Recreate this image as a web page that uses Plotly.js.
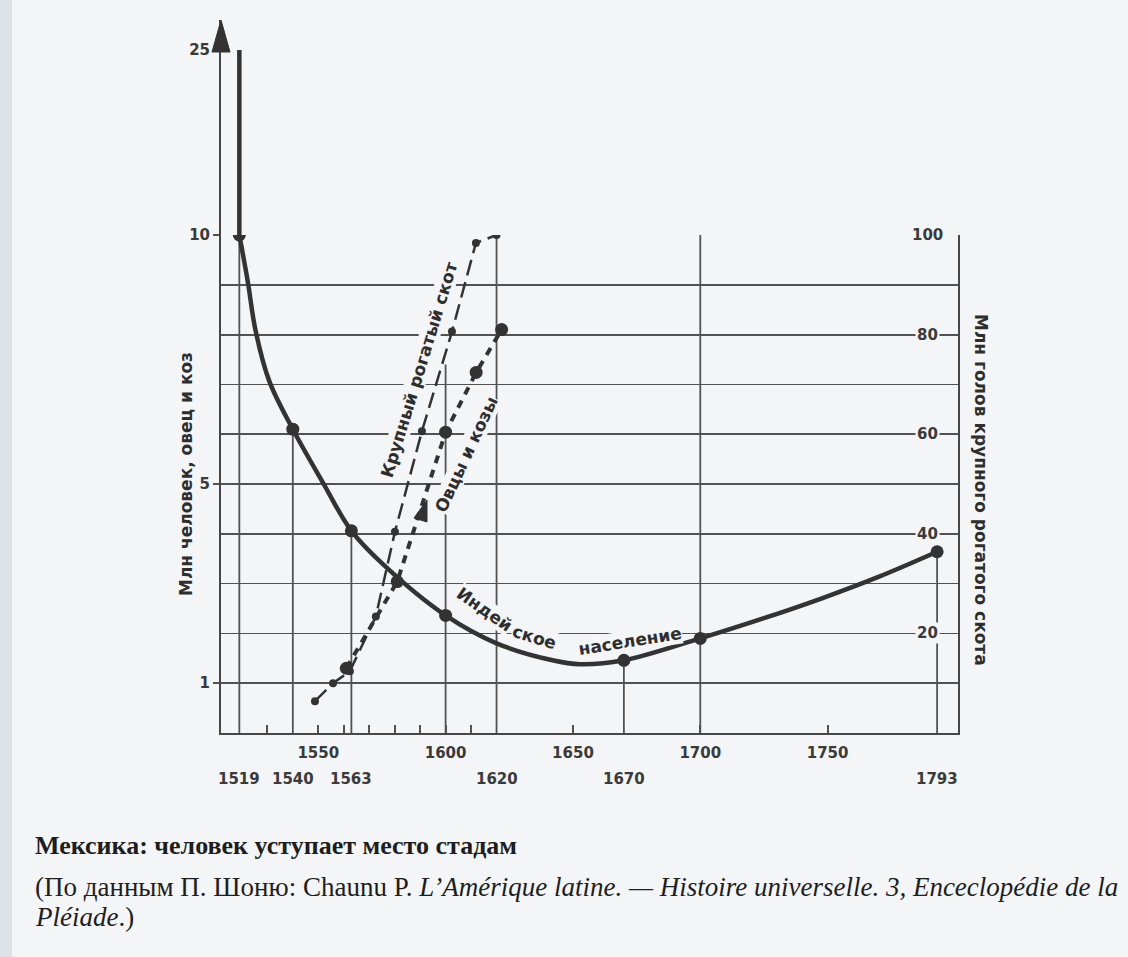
<!DOCTYPE html>
<html><head><meta charset="utf-8">
<script src="https://cdn.plot.ly/plotly-3.0.1.min.js"></script>
<style>html,body{margin:0;padding:0;background:#f3f5f7}#chart{width:1128px;height:957px}</style>
</head><body><div id="chart"></div>
<script>
// ---- data ----
const indianYears  = [1519, 1522.4, 1525.3, 1530.8, 1540, 1551.7, 1563, 1576, 1600, 1620, 1642, 1652.7, 1670, 1700, 1724.7, 1747.5, 1770.2, 1793];
const indianValues = [10, 9.04, 8.1, 7.06, 6.1, 5.04, 4.06, 3.36, 2.36, 1.8, 1.46, 1.38, 1.46, 1.9, 2.3, 2.7, 3.14, 3.64];
const indianMarkedYears = [1519, 1540, 1563, 1600, 1670, 1700, 1793];
const indianPeakYears  = [1519, 1519];
const indianPeakValues = [10, 25];
const cattleYears  = [1548.7, 1555.8, 1562.4, 1572.6, 1580.1, 1590.7, 1602.5, 1611.9, 1620];
const cattleValues = [6.4, 10, 12.4, 23.4, 40.4, 60.6, 80.6, 98.4, 100];
const sheepYears  = [1561, 1581, 1600, 1612, 1622];
const sheepValues = [1.3, 3.04, 6.04, 7.24, 8.1];
const dropYears = [1519, 1540, 1563, 1600, 1620, 1670, 1700, 1793];
const dropTops  = [10, 6.1, 4.06, 7.4, 10, 1.46, 10, 3.64];
const leftTicks  = [1, 5, 10];
const upperTicks = [25];
const rightTicks = [20, 40, 60, 80, 100];
const xTopRow    = [1550, 1600, 1650, 1700, 1750];
const xBottomRow = [1519, 1540, 1563, 1620, 1670, 1793];
const xMinorTicks = [1530, 1560, 1570, 1580, 1590, 1610];

// ---- layout geometry ----
const L = 221, R = 958, T = 20, B = 733;
const W = R - L, H = B - T;
const px = x => (x - L) / W;
const py = y => (B - y) / H;
const mainTop = py(235);
const BG = '#f3f5f7';
const INK = '#333333';
const GRID = '#525252';
const FONT = 'DejaVu Sans';

const markedValues = indianMarkedYears.map(y => indianValues[indianYears.indexOf(y)]);
const dropX = [], dropY = [];
dropYears.forEach((yr, i) => { dropX.push(yr, yr, null); dropY.push(0, dropTops[i], null); });

const traces = [
  {x: dropX, y: dropY, mode: 'lines', line: {color: GRID, width: 1.8}, hoverinfo: 'skip', showlegend: false},
  {x: indianYears, y: indianValues, mode: 'lines', line: {color: INK, width: 4.5, shape: 'spline', smoothing: 1}, showlegend: false},
  {x: indianPeakYears, y: indianPeakValues, yaxis: 'y3', mode: 'lines', line: {color: INK, width: 4.5}, showlegend: false},
  {x: indianMarkedYears, y: markedValues, mode: 'markers', marker: {color: INK, size: 13}, showlegend: false},
  {x: cattleYears, y: cattleValues, yaxis: 'y2', mode: 'lines+markers', line: {color: INK, width: 2.5, dash: '16px,7px'}, marker: {color: INK, size: 8}, showlegend: false},
  {x: sheepYears, y: sheepValues, mode: 'lines+markers', line: {color: INK, width: 4, dash: '8px,7px'}, marker: {color: INK, size: 13}, showlegend: false}
];

const tickFont = {family: FONT, size: 15, color: '#3a3a3a', weight: 'bold'};
const labelFont = {family: FONT, size: 17, color: '#2e2e2e', weight: 'bold'};
const capFont = {family: 'Liberation Serif', size: 27, color: '#1e1e1e'};

const ann = (x, y, text, extra) => Object.assign({xref: 'paper', yref: 'paper', x: px(x), y: py(y), text: text,
  showarrow: false, xanchor: 'center', yanchor: 'middle'}, extra);

const annotations = [];
rightTicks.forEach(v => annotations.push({xref: 'paper', yref: 'y2', x: px(927), y: v, text: String(v), showarrow: false,
  xanchor: 'center', yanchor: 'middle', bgcolor: BG, borderpad: 1, font: tickFont}));
xBottomRow.forEach(v => annotations.push({xref: 'x', yref: 'paper', x: v, y: py(779), text: String(v), showarrow: false,
  xanchor: 'center', yanchor: 'middle', font: tickFont}));
annotations.push(
  ann(186, 474, 'Млн человек, овец и коз', {textangle: -90, font: labelFont}),
  ann(981, 490, 'Млн голов крупного рогатого скота', {textangle: 90, font: labelFont}),
  ann(419, 370, 'Крупный рогатый скот', {textangle: -73, bgcolor: BG, borderpad: 0, font: labelFont}),
  ann(466, 455, 'Овцы и козы', {textangle: -65, bgcolor: BG, borderpad: 0, font: labelFont}),
  ann(484, 609, 'Индей', {textangle: 35, bgcolor: BG, borderpad: 0, font: labelFont}),
  ann(534, 637, 'ское', {textangle: 17, bgcolor: BG, borderpad: 0, font: labelFont}),
  ann(630, 641, 'население', {textangle: -9, bgcolor: BG, borderpad: 0, font: labelFont}),
  ann(33, 845, '<b>Мексика: человек уступает место стадам</b>', {xanchor: 'left', font: Object.assign({}, capFont, {size: 26})}),
  ann(33, 887, '(По данным П. Шоню: Chaunu P. <i>L’Amérique latine. — Histoire universelle. 3, Enceclopédie de la</i>', {xanchor: 'left', font: capFont}),
  ann(33, 917, '<i>Pléiade</i>.)', {xanchor: 'left', font: capFont})
);

// arrow heads (decoration)
const tri = (tx, ty, bx1, by1, bx2, by2) => `M${px(tx)},${py(ty)} L${px(bx1)},${py(by1)} L${px(bx2)},${py(by2)} Z`;
const shapes = [
  {type: 'rect', xref: 'paper', yref: 'paper', x0: px(0), x1: px(12), y0: py(957), y1: py(0), fillcolor: '#dde2e7', line: {width: 0}, layer: 'below'},
  {type: 'path', xref: 'paper', yref: 'paper', path: tri(221, 20, 212, 52, 230, 52), fillcolor: INK, line: {color: INK, width: 1}},
  {type: 'path', xref: 'paper', yref: 'paper', path: tri(427, 500, 414, 518, 427, 522), fillcolor: INK, line: {color: INK, width: 1}}
];

const layout = {
  width: 1128, height: 957,
  margin: {l: L, r: 1128 - R, t: T, b: 957 - B, pad: 0},
  paper_bgcolor: BG, plot_bgcolor: BG,
  showlegend: false,
  xaxis: {range: [1511.8, 1801.2], tickvals: xTopRow, ticks: 'inside', ticklen: 8, tickwidth: 2, tickcolor: GRID,
          showline: true, linewidth: 2, linecolor: '#474747', showgrid: false, zeroline: false, anchor: 'y',
          tickfont: tickFont, ticklabelstandoff: 5,
          minor: {tickvals: xMinorTicks, ticks: 'inside', ticklen: 8, tickwidth: 2, tickcolor: GRID, showgrid: false}},
  yaxis: {domain: [0, mainTop], range: [0, 10], tickvals: leftTicks, ticks: 'outside', ticklen: 6, tickwidth: 2, tickcolor: GRID,
          showgrid: true, gridcolor: GRID, gridwidth: 1.8, zeroline: false, showline: true, linewidth: 2, linecolor: '#474747',
          tickfont: tickFont, anchor: 'x',
          minor: {dtick: 1, tick0: 0, showgrid: true, gridcolor: GRID, gridwidth: 1.8, ticks: ''}},
  yaxis2: {overlaying: 'y', side: 'right', range: [0, 100], showgrid: false, showticklabels: false, ticks: '',
           showline: true, linewidth: 2, linecolor: '#474747', zeroline: false, anchor: 'x'},
  yaxis3: {domain: [mainTop, 1], range: [10, 10 + (235 - T) / (185 / 15)], tickvals: upperTicks, ticks: 'outside', ticklen: 6, tickwidth: 2,
           tickcolor: GRID, showgrid: false, zeroline: false, showline: true, linewidth: 2, linecolor: '#474747', tickfont: tickFont, anchor: 'x'},
  annotations: annotations,
  shapes: shapes
};

Plotly.newPlot('chart', traces, layout, {staticPlot: true});
</script>
</body></html>
